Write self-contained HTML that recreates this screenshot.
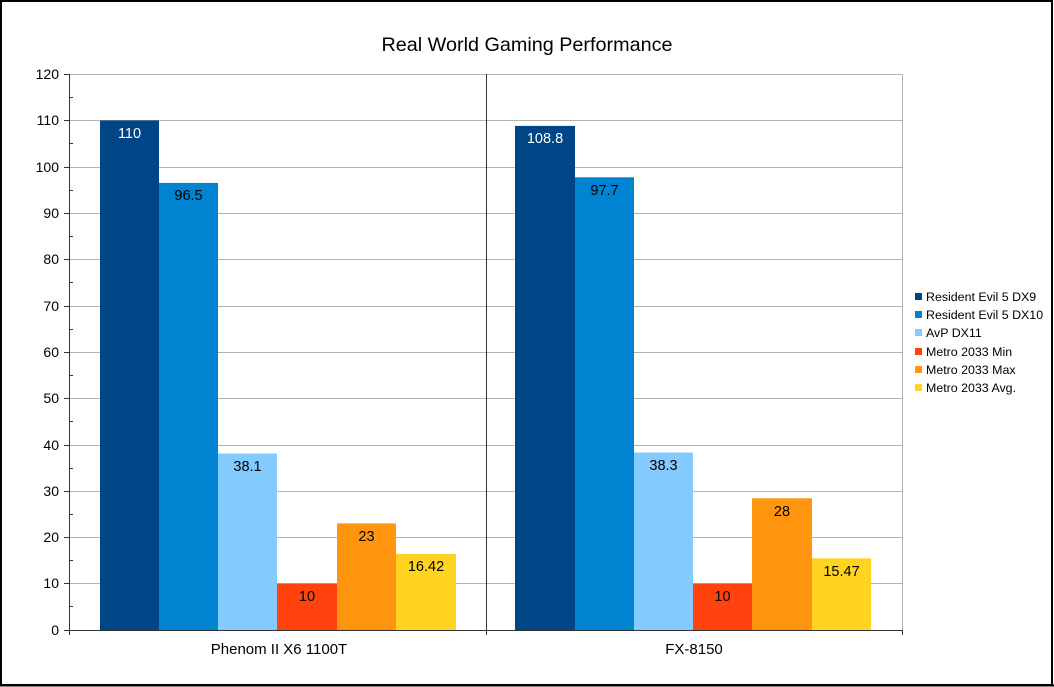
<!DOCTYPE html>
<html><head><style>body{margin:0;background:#fff}svg{display:block}text{font-family:"Liberation Sans",sans-serif}</style></head><body>
<svg width="1054" height="687" xmlns="http://www.w3.org/2000/svg">
<rect x="1" y="1" width="1051" height="684" fill="#fff" stroke="#000" stroke-width="2"/>
<line x1="0" y1="685.5" x2="1054" y2="685.5" stroke="#000" stroke-width="2"/>
<text x="527" y="51" font-size="19.8" text-anchor="middle">Real World Gaming Performance</text>
<g stroke="#b3b3b3" stroke-width="1">
<line x1="69" y1="74.5" x2="903" y2="74.5"/>
<line x1="69" y1="120.5" x2="903" y2="120.5"/>
<line x1="69" y1="167.5" x2="903" y2="167.5"/>
<line x1="69" y1="213.5" x2="903" y2="213.5"/>
<line x1="69" y1="259.5" x2="903" y2="259.5"/>
<line x1="69" y1="306.5" x2="903" y2="306.5"/>
<line x1="69" y1="352.5" x2="903" y2="352.5"/>
<line x1="69" y1="398.5" x2="903" y2="398.5"/>
<line x1="69" y1="445.5" x2="903" y2="445.5"/>
<line x1="69" y1="491.5" x2="903" y2="491.5"/>
<line x1="69" y1="537.5" x2="903" y2="537.5"/>
<line x1="69" y1="583.5" x2="903" y2="583.5"/>
<line x1="902.5" y1="74" x2="902.5" y2="630"/>
</g>
<line x1="486.5" y1="74" x2="486.5" y2="635" stroke="#333"/>
<g>
<rect x="100" y="120.4" width="59" height="509.6" fill="#004586"/>
<rect x="159" y="182.9" width="59" height="447.1" fill="#0084d1"/>
<rect x="218" y="453.5" width="59" height="176.5" fill="#83caff"/>
<rect x="277" y="583.7" width="60" height="46.3" fill="#ff420e"/>
<rect x="337" y="523.4" width="59" height="106.6" fill="#ff950e"/>
<rect x="396" y="553.9" width="60" height="76.1" fill="#ffd320"/>
<rect x="515" y="125.9" width="60" height="504.1" fill="#004586"/>
<rect x="575" y="177.3" width="59" height="452.7" fill="#0084d1"/>
<rect x="634" y="452.5" width="59" height="177.5" fill="#83caff"/>
<rect x="693" y="583.7" width="59" height="46.3" fill="#ff420e"/>
<rect x="752" y="498.3" width="60" height="131.7" fill="#ff950e"/>
<rect x="812" y="558.3" width="59" height="71.7" fill="#ffd320"/>
</g>
<g font-size="14.5" text-anchor="middle">
<text x="129.5" y="138" fill="#fff">110</text>
<text x="188.5" y="200">96.5</text>
<text x="247.5" y="471">38.1</text>
<text x="307" y="601">10</text>
<text x="366.5" y="541">23</text>
<text x="426" y="571">16.42</text>
<text x="545" y="143" fill="#fff">108.8</text>
<text x="604.5" y="195">97.7</text>
<text x="663.5" y="470">38.3</text>
<text x="722.5" y="601">10</text>
<text x="782" y="516">28</text>
<text x="841.5" y="576">15.47</text>
</g>
<g stroke="#333" stroke-width="1">
<line x1="69.5" y1="74" x2="69.5" y2="635"/>
<line x1="64" y1="630.5" x2="903" y2="630.5"/>
<line x1="902.5" y1="630" x2="902.5" y2="635"/>
<path d="M64 74.5h5M64 120.5h5M64 167.5h5M64 213.5h5M64 259.5h5M64 306.5h5M64 352.5h5M64 398.5h5M64 445.5h5M64 491.5h5M64 537.5h5M64 583.5h5"/>
<path d="M69 97.5h4M69 143.5h4M69 190.5h4M69 236.5h4M69 282.5h4M69 329.5h4M69 375.5h4M69 421.5h4M69 468.5h4M69 514.5h4M69 560.5h4M69 606.5h4"/>
</g>
<g font-size="14" text-anchor="end">
<text x="59" y="79">120</text><text x="59" y="125">110</text><text x="59" y="172">100</text>
<text x="59" y="218">90</text><text x="59" y="264">80</text><text x="59" y="311">70</text>
<text x="59" y="357">60</text><text x="59" y="403">50</text><text x="59" y="450">40</text>
<text x="59" y="496">30</text><text x="59" y="542">20</text><text x="59" y="588">10</text>
<text x="59" y="635">0</text>
</g>
<g font-size="15" text-anchor="middle">
<text x="279" y="654">Phenom II X6 1100T</text>
<text x="694" y="654">FX-8150</text>
</g>
<g font-size="12.4">
<rect x="915" y="293" width="7" height="7" fill="#004586"/><text x="926" y="301">Resident Evil 5 DX9</text>
<rect x="915" y="311" width="7" height="7" fill="#0084d1"/><text x="926" y="319">Resident Evil 5 DX10</text>
<rect x="915" y="329" width="7" height="7" fill="#83caff"/><text x="926" y="337">AvP DX11</text>
<rect x="915" y="348" width="7" height="7" fill="#ff420e"/><text x="926" y="356">Metro 2033 Min</text>
<rect x="915" y="366" width="7" height="7" fill="#ff950e"/><text x="926" y="374">Metro 2033 Max</text>
<rect x="915" y="384" width="7" height="7" fill="#ffd320"/><text x="926" y="392">Metro 2033 Avg.</text>
</g>
</svg>
</body></html>
